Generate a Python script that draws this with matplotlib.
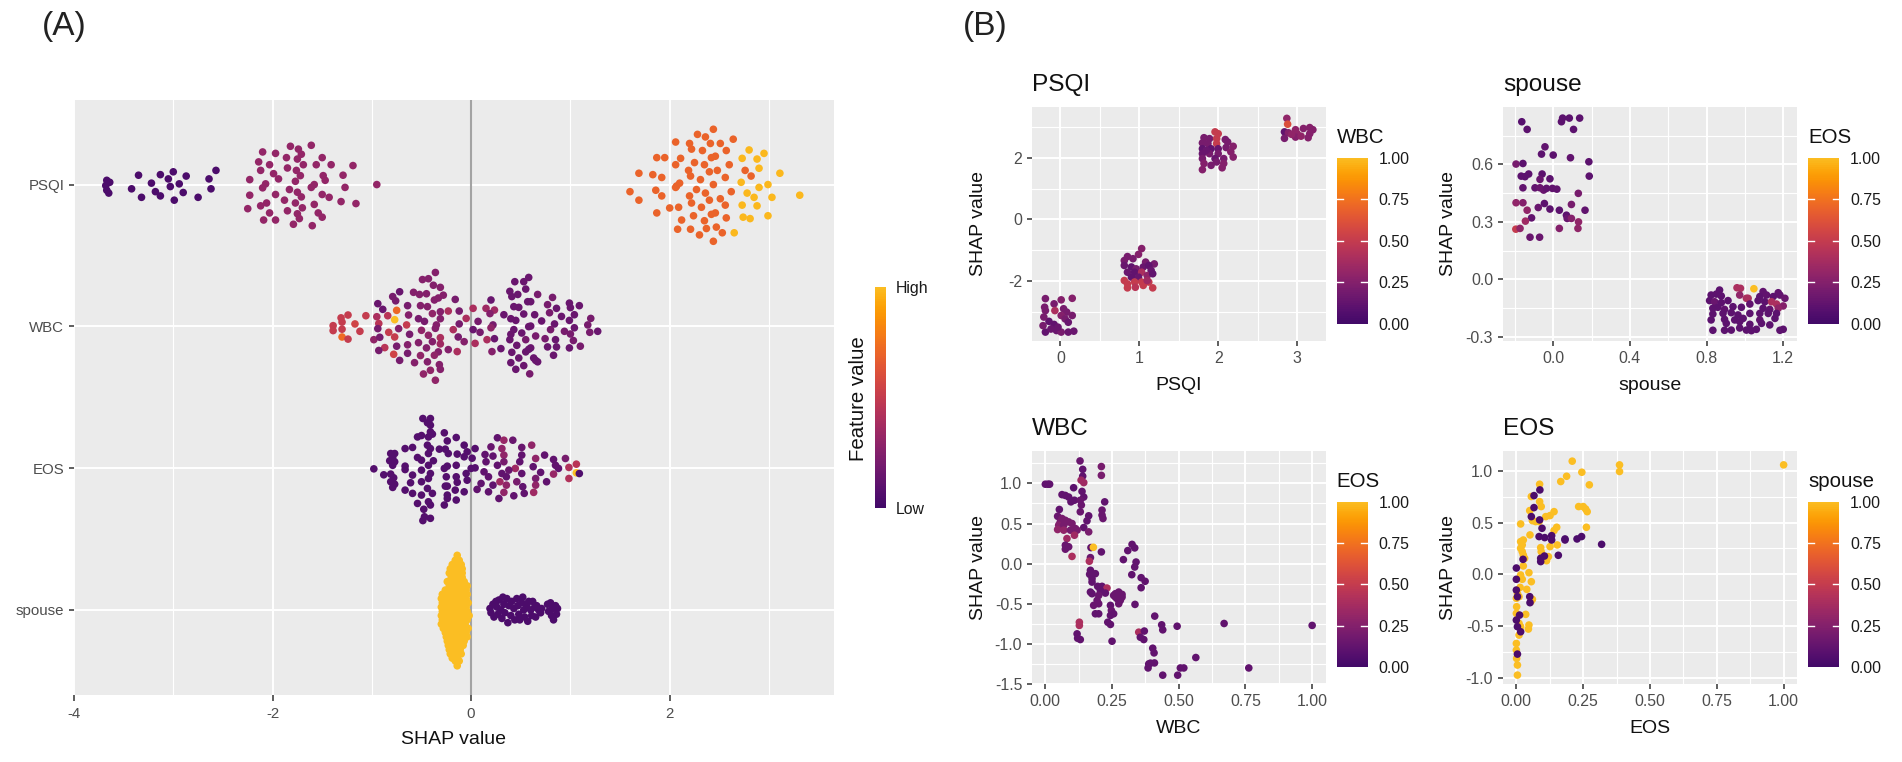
import numpy as np
import matplotlib
matplotlib.use('Agg')
import matplotlib.pyplot as plt
from matplotlib import cm
from matplotlib.colors import LinearSegmentedColormap, Normalize

plt.rcParams['font.family'] = ['Liberation Sans', 'DejaVu Sans']
plt.rcParams['axes.unicode_minus'] = False

W, H = 1902, 762

# panel A : shap value, swarm offset, colour
features = ['PSQI', 'WBC', 'EOS', 'spouse']

psqi_dark_x = [-3.67,-3.64,-3.68,-3.67,-3.65,-3.35,-3.42,-3.32,-3.22,-3.18,-3.13,-3.13,-3.05,-3.03,-3.00,-2.99,-2.94,-2.90,-2.87,-2.75,-2.64,-2.62,-2.57]
psqi_dark_o = [.03,.016,-.007,-.04,-.06,.066,-.03,-.09,.01,-.05,.07,-.08,.04,-.014,.09,-.11,.005,-.056,.06,-.09,.04,-.03,.10]
psqi_red_x = [-1.61,-1.82,-1.74,-2.10,-1.97,-1.86,-1.71,-1.75,-1.50,-2.14,-2.03,-1.69,-1.56,-1.41,-1.19,-1.85,-1.76,-2.12,-1.99,-1.94,-1.72,-1.49,-1.29,-2.23,-1.47,-1.77,-2.07,-2.10,-1.58,-1.61,-1.27,-.95,-1.83,-1.75,-1.97,-2.23,-1.71,-1.50,-1.43,-1.88,-1.77,-2.06,-2.12,-1.58,-1.31,-1.16,-2.25,-1.70,-1.85,-2.03,-1.75,-1.54,-1.50,-2.09,-1.97,-1.73,-1.79,-1.60]
psqi_red_o = [.277,.27,.25,.23,.22,.19,.214,.18,.19,.16,.14,.14,.14,.14,.134,.117,.10,.10,.077,.04,.063,.063,.066,.035,.03,.023,.005,-.023,0,-.02,-.02,0,-.035,-.054,-.07,-.075,-.087,-.07,-.09,-.11,-.13,-.13,-.15,-.14,-.12,-.134,-.17,-.164,-.185,-.2,-.206,-.2,-.23,-.25,-.25,-.24,-.28,-.29]
psqi_orange_x = [2.44,2.28,2.36,2.06,2.20,2.41,2.51,2.64,2.22,2.33,2.57,1.87,1.95,2.11,2.42,2.46,2.25,2.06,2.35,2.60,2.19,2.40,2.48,1.69,1.83,1.92,2.21,2.56,2.76,2.82,2.31,2.10,2.07,2.06,2.44,1.86,2.27,1.60,2.36,2.62,1.92,2.20,1.69,2.40,2.51,2.22,2.00,2.09,2.32,2.56,1.87,2.42,2.46,2.24,2.57,2.12,2.35,2.08,2.21,2.37,2.47,2.53,2.30,2.44]
psqi_orange_o = [.39,.354,.336,.30,.29,.29,.29,.32,.25,.24,.24,.19,.19,.185,.19,.20,.155,.14,.14,.14,.10,.09,.10,.08,.07,.05,.06,.05,.10,.06,.035,.01,-.01,-.02,0,-.04,-.035,-.05,-.06,-.05,-.08,-.08,-.11,-.11,-.10,-.13,-.165,-.16,-.16,-.145,-.20,-.21,-.20,-.22,-.235,-.25,-.255,-.315,-.315,-.31,-.30,-.34,-.355,-.40]
psqi_yellow_x = [2.80,2.95,2.73,2.88,2.90,3.11,2.72,2.99,2.90,2.78,2.85,3.03,3.31,2.73,2.88,2.74,2.81,2.99,2.65]
psqi_yellow_o = [.244,.22,.185,.18,.115,.08,.016,0,-.02,-.06,-.09,-.09,-.075,-.145,-.15,-.23,-.24,-.22,-.34]

wbc_x = [-1.24,-1.31,-1.30,-1.39,-1.39,-1.30,-1.30,-1.24,-1.17,-1.12,-1.06,-.95,-.93,-.94,-.98,-.92,-.83,-.77,-.84,-.75,-.77,-.65,-.73,-.87,-.93,-.78,-.75,-.72,-.94,-.89,-.79,-.76,-.72,-.64,-.63,-.62,-.64,-.64,-.57,-.58,-.52,-.45,-.49,-.43,-.36,-.38,-.31,-.28,-.33,-.37,-.16,-.51,-.44,-.39,-.31,-.53,-.47,-.31,-.23,-.12,-.05,-.12,-.35,-.36,-.50,-.18,-.43,-.13,-.07,-.53,-.39,-.31,-.31,-.45,-.33,-.37,-.23,-.14,-.51,-.44,-.32,-.31,-.41,-.48,-.36,
         .02,.07,.02,.09,.04,.15,.235,.19,.20,.22,.20,.16,.235,.21,.30,.33,.39,.41,.47,.44,.53,.58,.55,.67,.82,.57,.60,.43,.48,.53,.40,.45,.64,.71,.77,.86,.79,.99,1.0,1.09,1.04,.91,.99,.84,.80,1.04,.94,1.0,1.205,1.175,1.195,1.275,.58,.60,.43,.40,.39,.51,.55,.65,.745,.85,1.03,.46,.41,.60,.58,.55,.77,.86,.99,1.10,.48,.63,.65,.67,.40,.83,.45,.53,.59]
wbc_o = [.08,.06,.03,.005,-.03,-.02,-.075,-.09,.017,-.035,.075,.068,.02,-.016,-.094,-.077,-.042,-.075,.075,.113,.047,.01,-.016,-.15,-.17,-.197,-.14,-.24,.16,.12,.21,.18,.244,.146,.08,-.056,-.13,-.19,-.256,.24,.225,.23,.33,.336,.38,.29,.275,.22,.2,.186,.19,.146,.139,.09,.103,.054,.035,.054,.108,.108,.056,.017,.01,-.014,-.028,-.023,-.063,-.075,-.108,-.115,-.108,-.08,-.124,-.152,-.18,-.204,-.164,-.178,-.206,-.25,-.27,-.303,-.31,-.336,-.38,
         .127,.035,-.023,-.042,-.12,.127,.115,.09,.186,.01,-.01,-.094,-.087,-.178,-.157,.082,.247,.21,.225,.315,.315,.345,.263,.225,.204,.174,.174,.139,.134,.087,.054,.042,.082,.038,.153,.127,.096,.164,.132,.146,.082,.07,.042,.017,-.023,-.01,-.035,-.054,.056,.01,-.042,-.035,-.002,.002,-.023,-.056,-.094,-.047,-.094,-.068,-.087,-.094,-.1,-.134,-.183,-.152,-.162,-.18,-.145,-.145,-.152,-.14,-.223,-.223,-.24,-.25,-.256,-.204,-.303,-.277,-.335]
wbc_c = [.5,.5,.5,.5,.5,.5,.72,.5,.55,.5,.5,.4,.45,.2,.3,.2,.5,.5,.45,.7,1.0,.5,.25,.45,.2,.55,.2,.2,.15,.15,.2,.2,.15,.2,.25,.2,.25,.2,.25,.25,.25,.25,.25,.25,.25,.25,.25,.25,.25,.25,.2,.25,.25,.3,.25,.2,.2,.25,.4,.2,.4,.2,.25,.25,.3,.4,.3,.2,.25,.25,.25,.4,.35,.25,.25,.3,.25,.4,.3,.25,.25,.25,.3,.3,.3,
         .4,.2,.15,.2,.4,.35,.35,.25,.15,.2,.3,.4,.15,.25,.15,.15,.15,.15,.15,.15,.15,.15,.15,.2,.2,.15,.15,.15,.15,.15,.15,.15,.15,.15,.2,.15,.2,.15,.15,.15,.15,.15,.15,.15,.2,.15,.2,.2,.2,.2,.2,.15,.15,.15,.15,.15,.15,.15,.2,.2,.2,.15,.2,.15,.15,.15,.15,.15,.15,.15,.15,.2,.15,.15,.15,.15,.15,.15,.15,.15,.2]

eos_x = [-.98,-.88,-.81,-.77,-.79,-.82,-.77,-.79,-.665,-.665,-.81,-.78,-.81,-.77,-.79,-.665,-.54,-.50,-.41,-.39,-.43,-.27,-.15,-.486,-.41,-.44,-.41,-.486,-.41,-.47,-.54,-.43,-.41,-.477,-.27,-.15,-.24,-.59,-.44,-.41,-.32,-.26,-.24,-.07,.04,-.04,-.14,-.23,-.43,-.54,-.50,-.38,-.43,-.50,-.59,-.61,-.50,-.41,-.43,-.27,-.24,-.15,-.15,-.25,-.05,0,-.07,.01,.04,-.04,-.24,-.14,-.665,-.59,-.50,-.44,-.39,-.26,-.16,-.07,-.24,
         .265,.33,.42,.20,.31,.51,.61,.14,.22,.33,.51,.65,.74,.83,.95,.15,.33,.49,.625,.13,.265,.445,.38,.70,.85,.88,.83,.985,1.06,1.06,1.09,.985,.175,.31,.355,.51,.65,.76,.29,.355,.22,.10,.46,.52,.33,.175,.28,.43,.535,.63,.65,.06]
eos_o = [-.005,-.047,.103,.103,.075,.052,.045,.02,.014,-.01,-.042,-.068,-.096,-.113,-.136,.138,.22,.23,.256,.24,.22,.249,.216,.35,.35,.32,.303,-.37,-.354,-.343,-.249,-.237,-.26,-.29,-.26,-.225,-.214,.146,.162,.138,.134,.134,.192,.162,.138,.115,.099,.103,.103,.075,.056,.052,.02,-.014,-.049,-.103,-.096,-.038,-.073,-.002,.014,.02,-.061,-.061,-.038,-.002,.08,.07,.002,-.085,-.127,-.10,-.155,-.178,-.19,-.143,-.178,-.127,-.155,-.167,-.19,
         .214,.197,.197,.15,.138,.146,.162,.096,.085,.092,.092,.068,.092,.061,.068,.045,.045,.045,.01,-.026,.02,-.002,-.014,-.03,.02,-.002,-.042,.005,.028,-.033,-.038,-.073,-.061,-.038,-.061,-.038,-.073,-.096,-.096,-.12,-.12,-.108,-.096,-.131,-.171,-.167,-.214,-.195,-.178,-.171,-.12,-.15]
eos_c = [.07]*81 + [.12,.32,.15,.15,.3,.15,.3,.12,.12,.3,.12,.3,.12,.12,.2,.12,.2,.12,.12,.12,.12,.35,.15,.12,.12,.12,.32,.42,.45,1.0,.05,.42,.12,.12,.12,.12,.2,.12,.35,.3,.12,.12,.2,.12,.3,.12,.12,.12,.12,.35,.3,.12]

spouse_yes_x = [-.14,-.16,-.12,-.19,-.15,-.10,-.21,-.17,-.13,-.09,-.22,-.18,-.14,-.09,-.20,-.16,-.12,-.09,-.24,-.19,-.15,-.11,-.07,-.22,-.17,-.13,-.08,-.04,-.26,-.21,-.15,-.10,-.05,-.29,-.24,-.19,-.14,-.09,-.04,-.30,-.25,-.20,-.15,-.10,-.05,-.29,-.23,-.18,-.13,-.08,-.03,-.30,-.25,-.20,-.15,-.10,-.05,-.29,-.24,-.19,-.14,-.09,-.04,-.30,-.25,-.20,-.15,-.10,-.05,-.02,-.29,-.24,-.18,-.13,-.08,-.04,-.30,-.26,-.21,-.16,-.11,-.06,-.28,-.23,-.17,-.12,-.07,-.03,-.26,-.21,-.15,-.09,-.05,-.25,-.20,-.14,-.08,-.04,-.24,-.19,-.13,-.07,-.23,-.18,-.12,-.08,-.22,-.17,-.11,-.21,-.15,-.10,-.19,-.14,-.16,-.12,-.14]
spouse_yes_o = [.385,.35,.35,.32,.32,.32,.29,.29,.29,.29,.26,.26,.26,.26,.23,.23,.23,.23,.20,.20,.20,.20,.20,.17,.17,.17,.17,.17,.14,.14,.14,.14,.14,.11,.11,.11,.11,.11,.11,.08,.08,.08,.08,.08,.08,.05,.05,.05,.05,.05,.05,.02,.02,.02,.02,.02,.02,-.01,-.01,-.01,-.01,-.01,-.01,-.04,-.04,-.04,-.04,-.04,-.04,-.04,-.07,-.07,-.07,-.07,-.07,-.07,-.10,-.10,-.10,-.10,-.10,-.10,-.13,-.13,-.13,-.13,-.13,-.13,-.16,-.16,-.16,-.16,-.16,-.19,-.19,-.19,-.19,-.19,-.22,-.22,-.22,-.22,-.25,-.25,-.25,-.25,-.28,-.28,-.28,-.31,-.31,-.31,-.34,-.34,-.36,-.36,-.394]
spouse_no_x = [.19,.20,.22,.23,.25,.26,.27,.28,.30,.31,.32,.33,.34,.36,.37,.38,.40,.41,.43,.44,.46,.47,.48,.49,.51,.52,.53,.54,.56,.57,.58,.60,.61,.62,.64,.65,.66,.68,.70,.71,.77,.78,.80,.81,.82,.83,.85,.86,.87]
spouse_no_o = [.01,-.02,.04,-.05,.06,.02,-.03,.07,0,-.06,.09,.04,-.02,.08,-.09,.03,-.04,.06,.01,-.07,.08,.03,-.03,-.07,.05,.09,0,-.05,.03,-.08,.06,0,-.04,.06,.02,-.05,.03,0,-.02,.01,.04,-.01,.05,-.04,.01,-.07,.03,-.03,.01]

# panel B, PSQI dependence
dep_psqi_x = [-.19,-.08,.01,.15,-.20,-.07,.04,.08,.15,-.19,-.145,.01,.06,-.08,-.19,-.05,.01,.10,.17,-.12,-.22,-.21,.10,-.03,
              1.03,.99,.85,.92,.81,1.08,1.19,.81,.90,.96,1.05,1.12,.85,.94,1.03,1.15,.90,.99,1.10,1.17,.81,.85,.94,1.03,1.12,.85,.95,1.05,1.17,1.10,
              1.96,2.0,1.82,1.89,1.98,2.09,1.80,1.87,1.98,2.12,2.19,1.80,1.91,2.0,2.10,1.80,1.89,2.0,2.16,1.80,1.96,2.07,2.19,1.82,1.98,2.07,1.80,2.05,1.91,1.85,
              2.87,2.88,2.84,2.89,2.98,3.0,3.08,3.16,3.20,3.16,2.84,2.98,3.05,3.14,2.93]
dep_psqi_y = [-2.58,-2.75,-2.62,-2.57,-2.86,-2.97,-2.91,-3.02,-3.13,-2.97,-3.32,-3.13,-3.24,-3.42,-3.67,-3.62,-3.67,-3.67,-3.64,-3.57,-3.46,-3.18,-3.35,-3.51,
              -.95,-1.14,-1.21,-1.28,-1.34,-1.39,-1.45,-1.5,-1.55,-1.61,-1.55,-1.5,-1.72,-1.72,-1.72,-1.66,-1.88,-1.88,-1.83,-1.77,-1.99,-2.10,-2.04,-2.04,-2.04,-2.23,-2.21,-2.15,-2.23,-1.99,
              2.85,2.79,2.66,2.63,2.63,2.60,2.49,2.47,2.47,2.52,2.38,2.30,2.30,2.30,2.34,2.14,2.14,2.14,2.20,1.98,1.98,1.98,2.03,1.82,1.87,1.82,1.62,1.68,1.76,2.25,
              3.29,3.10,2.85,2.82,2.92,2.79,2.96,2.99,2.92,2.79,2.64,2.68,2.71,2.66,2.77]
dep_psqi_c = [.2,.2,.25,.25,.2,.4,.2,.2,.2,.2,.12,.25,.2,.12,.12,.15,.2,.15,.15,.15,.2,.2,.15,.15,
              .25,.25,.2,.2,.2,.2,.2,.15,.12,.2,.15,.12,.15,.12,.4,.15,.12,.15,.3,.12,.5,.5,.5,.5,.5,.5,.45,.5,.5,.35,
              .5,.5,.2,.2,.5,.2,.2,.2,.5,.2,.25,.12,.12,.15,.2,.15,.2,.2,.25,.2,.15,.2,.25,.25,.2,.25,.25,.25,.2,.15,
              .3,.6,.12,.25,.3,.3,.25,.25,.25,.25,.2,.25,.3,.25,.3]

# spouse dependence, coloured by EOS
dep_spouse_x = [-.164,-.136,.049,.043,.084,.138,.106,-.043,-.061,0,.09,.186,-.194,-.158,.188,-.167,-.147,-.128,-.058,-.069,-.017,-.158,-.095,-.069,-.05,-.035,-.004,.019,.131,-.194,-.158,.095,-.136,-.078,-.046,-.017,.032,.166,-.113,-.145,.069,.073,.095,.132,-.195,-.173,.032,.129,-.121,-.071,
                .868,.959,.977,1.047,1.095,1.174,.824,.851,.877,.973,1.008,1.017,1.078,1.113,1.148,1.183,1.209,.816,.842,.877,.912,1.026,1.069,1.104,1.139,1.165,1.2,.833,.859,.894,.938,.982,1.095,1.13,1.174,.833,.886,.929,.964,1.026,1.078,1.122,1.165,.824,.894,.947,.991,1.078,1.157,.903,.973,1.026,1.087,1.13,.833,.894,.929,.973,1.008,1.034,1.06,1.183,1.2]
dep_spouse_y = [.823,.783,.842,.823,.842,.842,.783,.692,.654,.649,.635,.614,.602,.605,.539,.539,.536,.55,.55,.522,.525,.478,.478,.478,.466,.475,.475,.471,.449,.4,.4,.391,.361,.375,.396,.367,.361,.361,.321,.304,.335,.318,.318,.3,.262,.266,.266,.266,.22,.22,
                -.056,-.044,-.047,-.049,-.064,-.07,-.082,-.077,-.087,-.082,-.099,-.099,-.09,-.082,-.09,-.082,-.099,-.111,-.117,-.122,-.111,-.129,-.111,-.117,-.117,-.129,-.139,-.151,-.146,-.157,-.143,-.146,-.151,-.157,-.151,-.181,-.178,-.174,-.186,-.178,-.178,-.178,-.178,-.212,-.209,-.212,-.204,-.212,-.204,-.23,-.221,-.235,-.23,-.238,-.266,-.266,-.265,-.254,-.265,-.268,-.261,-.266,-.261]
dep_spouse_c = [.08,.1,.1,.1,.1,.1,.1,.12,.1,.1,.12,.1,.2,.1,.1,.1,.1,.1,.1,.15,.1,.12,.12,.15,.15,.12,.12,.12,.2,.3,.25,.2,.3,.15,.1,.1,.1,.12,.12,.35,.1,.15,.25,.3,.5,.3,.25,.3,.15,.15,
                .1,.4,.4,1.0,.12,.12,.1,.1,.1,.3,.4,.4,.1,.12,.1,.12,.15,.1,.15,.1,.1,.12,.1,.1,.4,.4,.25,.1,.1,.12,.1,.1,.1,.12,.3,.1,.1,.1,.1,.1,.1,.1,.1,.1,.1,.1,.1,.12,.1,.1,.1,.1,.1,.1,.1,.1,.1,.1,.1,.1,.1,.1,.1]

# WBC dependence, coloured by EOS
dep_wbc_x = [0,.01,.016,.13,.14,.21,.21,.14,.134,.144,.106,.0625,.075,.0875,.096,.109,.1375,.144,.131,.135,.131,.2125,.2125,.216,.2225,.1625,.156,.144,.1625,.0525,.046,.0625,.075,.056,.05,.046,.069,.0875,.10,.1125,.069,.094,.119,.109,.081,.075,.0875,.075,.10,.171,.21,.169,.165,.169,.166,.1875,.175,.175,.196,.2125,.231,.169,.175,.206,.225,.2,.194,.181,.2,.244,.2475,.244,.256,.1875,.2,.234,.244,.2625,.275,.2875,.269,.281,.2625,.275,.2875,.256,.336,.41,.436,.44,.494,.67,1.0,.25,.1275,.1275,.119,.121,.131,.35,.371,.356,.369,.4025,.4075,.3875,.394,.409,.385,.564,.506,.519,.7625,.44,.496,.324,.335,.34,.359,.374,.359,.2925,.309,.325,.335,.18]
dep_wbc_y = [.99,.99,.99,1.28,1.175,1.21,1.10,1.09,1.04,1.01,.946,.86,.85,.83,.77,.79,.90,.83,.79,.73,.646,.667,.604,.5625,.77,.596,.533,.45,.396,.675,.59,.5625,.54,.52,.48,.425,.48,.52,.50,.4375,.417,.417,.417,.354,.3125,.23,.21,.18,.09,.20,.146,.075,.03,-.083,-.133,-.125,-.1875,-.23,-.283,-.283,-.304,-.354,-.375,-.333,-.367,-.396,-.458,-.52,-.5,-.52,-.583,-.646,-.625,-.625,-.625,-.73,-.758,-.375,-.354,-.383,-.4375,-.458,-.417,-.5,-.417,-.396,-.508,-.654,-.7625,-.825,-.78,-.746,-.77,-.967,-.73,-.77,-.875,-.93,-.946,-.854,-.84,-.917,-.946,-1.054,-1.1125,-1.25,-1.24,-1.2375,-1.3,-1.17,-1.3,-1.3,-1.3,-1.39,-1.39,-.1375,-.042,.02,-.175,-.22,-.3,.05,.1625,.24,.196,.204]
dep_wbc_c = [.12,.12,.12,.15,.12,.2,.2,.12,.35,.35,.1,.12,.12,.12,.12,.12,.12,.12,.15,.15,.15,.15,.15,.15,.12,.12,.12,.12,.2,.12,.15,.2,.2,.2,.25,.3,.2,.2,.2,.2,.3,.2,.2,.35,.35,.15,.15,.15,.4,.12,.12,.15,.4,.12,.12,.12,.12,.12,.12,.12,.4,.12,.12,.12,.12,.15,.15,.15,.15,.12,.15,.12,.12,.12,.12,.12,.12,.15,.15,.15,.15,.15,.15,.15,.15,.15,.12,.12,.12,.12,.12,.12,.12,.12,.4,.4,.12,.12,.12,.4,.12,.12,.12,.12,.12,.12,.12,.12,.12,.12,.12,.12,.12,.12,.12,.12,.12,.12,.12,.12,.12,.12,.12,.12,.12,1.0]

# EOS dependence, coloured by spouse
dep_eos_yes_x = [.209,.386,.386,1.0,.245,.188,.166,.273,.087,.087,.093,.056,.05,.016,.141,.126,.11,.06,.072,.085,.233,.25,.259,.265,.262,.151,.141,.051,.026,.016,.022,.016,.022,.026,.031,.091,.093,.126,.153,.12,.113,.026,.047,.016,.022,.056,.014,.004,.039,.06,.054,0,.01,.001,0,.035,.047,.045,.01,.016,.01,0,0,.001,.004,.004]
dep_eos_yes_y = [1.094,1.058,.994,1.058,.987,.948,.897,.865,.871,.703,.655,.752,.616,.487,.606,.568,.558,.519,.51,.51,.655,.655,.632,.606,.455,.455,.423,.381,.332,.316,.284,.252,.219,.187,.155,.258,.219,.268,.284,.171,.132,.081,.016,-.006,-.048,-.071,-.126,-.184,-.145,-.242,-.265,-.232,-.216,-.313,-.377,-.387,-.49,-.529,-.474,-.506,-.587,-.668,-.732,-.813,-.877,-.974]
dep_eos_no_x = [0,0,0,.004,.05,.051,0,.012,.016,.004,.004,.088,.066,.066,.056,.087,.096,.085,.106,.132,.132,.182,.182,.227,.244,.319,.157,.105,.091,.091,.025]
dep_eos_no_y = [.061,-.048,-.152,-.216,-.216,-.274,-.442,-.394,-.555,-.506,-.771,.816,.761,.645,.558,.526,.445,.365,.355,.374,.332,.342,.332,.342,.365,.29,.184,.177,.155,.123,.145]

legend_ticks = [0, .25, .5, .75, 1]

# colours: inferno cut at both ends like the ggplot scale
inferno = LinearSegmentedColormap.from_list('inferno_cut', cm.inferno(np.linspace(.2, .85, 256)))
norm = Normalize(0, 1)


def px_axes(left, top, right, bottom):
    return fig.add_axes([left / W, 1 - bottom / H, (right - left) / W, (bottom - top) / H])


def panel(ax, xmaj, ymaj, xmin, ymin, xlabels=None, ylabels=None):
    ax.set_facecolor('#EBEBEB')
    for s in ax.spines.values():
        s.set_visible(False)
    ax.set_axisbelow(True)
    ax.set_xticks(xmaj)
    ax.set_yticks(ymaj)
    if xlabels:
        ax.set_xticklabels(xlabels)
    if ylabels:
        ax.set_yticklabels(ylabels)
    ax.set_xticks(xmin, minor=True)
    ax.set_yticks(ymin, minor=True)
    ax.grid(which='major', color='white', lw=1.4)
    ax.grid(which='minor', color='white', lw=0.8)
    ax.tick_params(which='minor', length=0)
    ax.tick_params(which='major', length=3.6, width=1.1, color='#333333', labelcolor='#4D4D4D', labelsize=11.4, pad=3.5)


def labels(ax, title, xlabel):
    ax.set_title(title, loc='left', fontsize=17.6, color='#111111', pad=11.5)
    ax.set_xlabel(xlabel, fontsize=14, color='#111111', labelpad=8)
    ax.set_ylabel('SHAP value', fontsize=14, color='#111111')
    ax.yaxis.set_label_coords(-.155, .5)


def legend_bar(left, top, right, bottom, title):
    cax = px_axes(left, top, right, bottom)
    cb = fig.colorbar(cm.ScalarMappable(norm=norm, cmap=inferno), cax=cax)
    cb.outline.set_visible(False)
    cb.set_ticks(legend_ticks)
    cb.set_ticklabels(['0.00', '0.25', '0.50', '0.75', '1.00'])
    cax.tick_params(length=0, labelsize=11.4, labelcolor='#1A1A1A', pad=8)
    for t in legend_ticks[1:-1]:
        cax.plot([0, .2], [t, t], color='white', lw=1, transform=cax.get_yaxis_transform())
        cax.plot([.8, 1], [t, t], color='white', lw=1, transform=cax.get_yaxis_transform())
    fig.text(left / W, 1 - (top - 20) / H, title, fontsize=14.7, va='center', ha='left', color='#111111')


def dots(ax, x, y, c, s=30):
    ax.scatter(x, y, c=c, cmap=inferno, norm=norm, s=s, linewidths=0, zorder=3)


fig = plt.figure(figsize=(W / 100, H / 100), dpi=100)

fig.text(42 / W, 1 - 27 / H, '(A)', fontsize=24, va='center', color='#222222')
fig.text(963 / W, 1 - 27 / H, '(B)', fontsize=24, va='center', color='#222222')

# (A) summary swarm
ax = px_axes(74, 99.5, 833.5, 695)
panel(ax, [-4, -2, 0, 2], [4, 3, 2, 1], [-3, -1, 1, 3], [], ylabels=features)
ax.set_xlim(-4.0, 3.65)
ax.set_ylim(.4, 4.6)
ax.tick_params(which='major', labelsize=10.8)
ax.tick_params(axis='x', which='major', length=4.3, pad=4.5)
ax.axvline(0, color='#A3A3A3', lw=1.5, zorder=2)
dots(ax, psqi_dark_x, 4 + np.array(psqi_dark_o), [.04] * len(psqi_dark_x))
dots(ax, psqi_red_x, 4 + np.array(psqi_red_o), [.31] * len(psqi_red_x))
dots(ax, psqi_orange_x, 4 + np.array(psqi_orange_o), [.69] * len(psqi_orange_x))
dots(ax, psqi_yellow_x, 4 + np.array(psqi_yellow_o), [.98] * len(psqi_yellow_x))
dots(ax, wbc_x, 3 + np.array(wbc_o), wbc_c)
dots(ax, eos_x, 2 + np.array(eos_o), eos_c)
dots(ax, spouse_yes_x, 1 + np.array(spouse_yes_o), [1.0] * len(spouse_yes_x))
dots(ax, spouse_no_x, 1 + np.array(spouse_no_o), [.04] * len(spouse_no_x))
ax.set_xlabel('SHAP value', fontsize=14, color='#111111', labelpad=7)

# Feature value legend, no tick marks or numbers
cax = px_axes(874.5, 286.5, 885.5, 508)
cb = fig.colorbar(cm.ScalarMappable(norm=norm, cmap=inferno), cax=cax)
cb.outline.set_visible(False)
cb.set_ticks([])
fig.text(896 / W, 1 - 289 / H, 'High', fontsize=11.4, va='center', color='#1A1A1A')
fig.text(896 / W, 1 - 510 / H, 'Low', fontsize=11.4, va='center', color='#1A1A1A')
fig.text(858 / W, 1 - 399 / H, 'Feature value', fontsize=14.7, rotation=90, va='center', ha='center', color='#111111')

# (B) dependence plots
ax = px_axes(1032, 107, 1325.5, 341)
panel(ax, [0, 1, 2, 3], [-4, -2, 0, 2], [.5, 1.5, 2.5], [-3, -1, 1, 3])
ax.set_xlim(-.36, 3.36)
ax.set_ylim(-3.96, 3.66)
dots(ax, dep_psqi_x, dep_psqi_y, dep_psqi_c)
labels(ax, 'PSQI', 'PSQI')
legend_bar(1336.5, 157.5, 1367.5, 323.5, 'WBC')

ax = px_axes(1503, 107, 1797, 341)
panel(ax, [0, .4, .8, 1.2], [-.3, 0, .3, .6], [-.2, .2, .6, 1.0], [-.15, .15, .45, .75],
      xlabels=['0.0', '0.4', '0.8', '1.2'], ylabels=['-0.3', '0.0', '0.3', '0.6'])
ax.set_xlim(-.262, 1.272)
ax.set_ylim(-.322, .90)
dots(ax, dep_spouse_x, dep_spouse_y, dep_spouse_c)
labels(ax, 'spouse', 'spouse')
legend_bar(1808, 157.5, 1839, 323.5, 'EOS')

ax = px_axes(1032, 450.5, 1325.5, 684)
panel(ax, [0, .25, .5, .75, 1], [-1.5, -1, -.5, 0, .5, 1], [.125, .375, .625, .875], [-1.25, -.75, -.25, .25, .75, 1.25],
      xlabels=['0.00', '0.25', '0.50', '0.75', '1.00'], ylabels=['-1.5', '-1.0', '-0.5', '0.0', '0.5', '1.0'])
ax.set_xlim(-.05, 1.05)
ax.set_ylim(-1.5, 1.41)
dots(ax, dep_wbc_x, dep_wbc_y, dep_wbc_c)
labels(ax, 'WBC', 'WBC')
legend_bar(1336.5, 501.5, 1367.5, 667, 'EOS')

ax = px_axes(1503, 450.5, 1797, 684)
panel(ax, [0, .25, .5, .75, 1], [-1, -.5, 0, .5, 1], [.125, .375, .625, .875], [-.75, -.25, .25, .75],
      xlabels=['0.00', '0.25', '0.50', '0.75', '1.00'], ylabels=['-1.0', '-0.5', '0.0', '0.5', '1.0'])
ax.set_xlim(-.05, 1.05)
ax.set_ylim(-1.06, 1.197)
dots(ax, dep_eos_yes_x, dep_eos_yes_y, [1.0] * len(dep_eos_yes_x))
dots(ax, dep_eos_no_x, dep_eos_no_y, [.04] * len(dep_eos_no_x))
labels(ax, 'EOS', 'EOS')
legend_bar(1808, 501.5, 1839, 667, 'spouse')

fig.savefig('out.png', dpi=100)
